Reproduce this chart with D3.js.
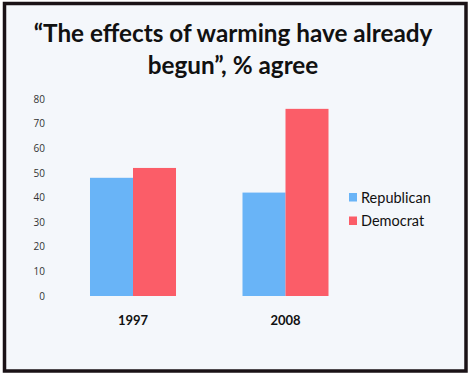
<!DOCTYPE html>
<html><head><meta charset="utf-8">
<script src="https://cdn.jsdelivr.net/npm/d3@7"></script>
<style>
html,body{margin:0;padding:0;background:#fff;}
svg{display:block;}
</style></head>
<body>
<svg id="chart" width="473" height="378"></svg>
<script>
const categories = ["1997", "2008"];
const seriesNames = ["Republican", "Democrat"];
const republican = [48, 42];
const democrat = [52, 76];
const yTicks = [0, 10, 20, 30, 40, 50, 60, 70, 80];
const titleLines = ["\u201cThe effects of warming have already", "begun\u201d, % agree"];
const colors = ["#69b4f7", "#fb5d68"];

const svg = d3.select("#chart");
// frame
svg.append("rect").attr("x", 4.5).attr("y", 3.5).attr("width", 461.5).attr("height", 367.5)
  .attr("fill", "#f4f7fb").attr("stroke", "#1a1216").attr("stroke-width", 3.5);

// title
const title = svg.append("text").attr("text-anchor", "middle")
  .attr("font-family", "Lato, 'Open Sans', sans-serif").attr("font-weight", "bold")
  .attr("font-size", 24.3).attr("fill", "#111");
title.selectAll("tspan").data(titleLines).join("tspan")
  .attr("x", 233).attr("y", (d, i) => 42 + i * 32).text(d => d);

const x0 = d3.scaleBand().domain(categories).range([56.75, 361.75]).paddingInner(0.436).paddingOuter(0.218);
const x1 = d3.scaleBand().domain(seriesNames).range([0, x0.bandwidth()]);
const y = d3.scaleLinear().domain([0, 80]).range([296, 99]);

const data = categories.map((c, i) => ({cat: c, vals: [republican[i], democrat[i]]}));

const groups = svg.append("g").selectAll("g").data(data).join("g")
  .attr("transform", d => `translate(${x0(d.cat)},0)`);
groups.selectAll("rect").data(d => d.vals.map((v, j) => ({name: seriesNames[j], v, j}))).join("rect")
  .attr("x", d => x1(d.name)).attr("width", x1.bandwidth())
  .attr("y", d => y(d.v)).attr("height", d => y(0) - y(d.v))
  .attr("fill", d => colors[d.j]);

// y axis (labels only)
const yAxis = d3.axisLeft(y).tickValues(yTicks).tickSize(0).tickPadding(0);
const ya = svg.append("g").attr("transform", "translate(45,0)").call(yAxis);
ya.select(".domain").remove();
ya.selectAll("text").attr("font-family", "'Open Sans', sans-serif").attr("font-size", 10).attr("fill", "#333");

// x axis labels
const xAxis = d3.axisBottom(x0).tickSize(0).tickPadding(0);
const xa = svg.append("g").attr("transform", "translate(0,316)").call(xAxis);
xa.select(".domain").remove();
xa.selectAll("text").attr("font-family", "Lato, 'Open Sans', sans-serif").attr("font-weight", "bold")
  .attr("font-size", 13).attr("fill", "#111");

// legend
const leg = svg.append("g").selectAll("g").data(seriesNames).join("g")
  .attr("transform", (d, i) => `translate(349,${193 + i * 23.5})`);
leg.append("rect").attr("width", 8).attr("height", 8.5).attr("fill", (d, i) => colors[i]);
leg.append("text").attr("x", 12).attr("y", 9.5).text(d => d)
  .attr("font-family", "Lato, 'Open Sans', sans-serif").attr("font-size", 14.5).attr("fill", "#111");
</script>
</body></html>
